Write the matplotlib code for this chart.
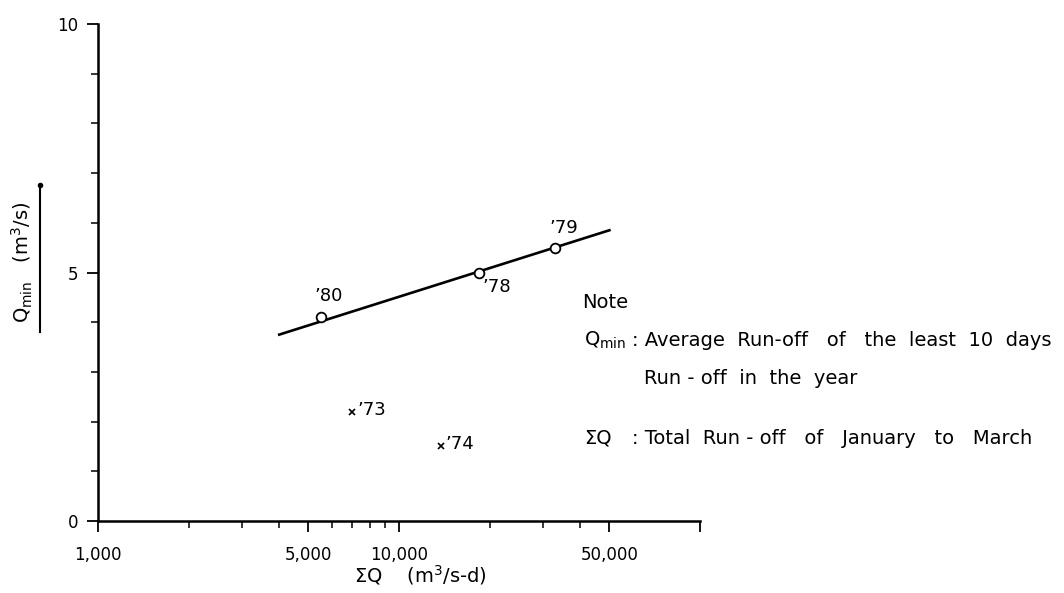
import matplotlib.pyplot as plt
from matplotlib.lines import Line2D

plt.rcParams['font.family'] = ['DejaVu Sans']
plt.rcParams['mathtext.default'] = 'regular'

# years lying on the fitted line
fit_years = ["’80", "’78", "’79"]
fit_sum_q = [5500, 18500, 33000]
fit_q_min = [4.1, 5.0, 5.5]

# years off the line
other_years = ["’73", "’74"]
other_sum_q = [7000, 13800]
other_q_min = [2.2, 1.5]

# fitted line end points
line_sum_q = [4000, 50000]
line_q_min = [3.75, 5.85]

x_ticks = [1000, 5000, 10000, 50000, 100000]
x_tick_labels = ["1,000", "5,000", "10,000", "50,000", ""]
x_minor = [2000, 3000, 4000, 6000, 7000, 8000, 9000, 20000, 30000, 40000]
y_ticks = [0, 5, 10]
y_tick_labels = ["0", "5", "10"]
y_minor = [1, 2, 3, 4, 6, 7, 8, 9]

W, H = 1064, 593
fig = plt.figure(figsize=(W / 100, H / 100), dpi=100)
ax = fig.add_axes([98 / W, 1 - 521 / H, (700 - 98) / W, (521 - 24) / H])

ax.plot(line_sum_q, line_q_min, color='k', lw=1.9, zorder=2)
ax.plot(fit_sum_q, fit_q_min, 'o', mfc='white', mec='k', ms=7, mew=1.3, zorder=3)
ax.plot(other_sum_q, other_q_min, 'x', color='k', ms=5, mew=1.2)

# label offsets in points
fit_offsets = [(-4.5, 9), (2, -4), (-4, 8)]
fit_align = [('left', 'bottom'), ('left', 'top'), ('left', 'bottom')]
for yr, x, y, off, (ha, va) in zip(fit_years, fit_sum_q, fit_q_min, fit_offsets, fit_align):
    ax.annotate(yr, (x, y), xytext=off, textcoords='offset points',
                ha=ha, va=va, fontsize=13)
for yr, x, y in zip(other_years, other_sum_q, other_q_min):
    ax.annotate(yr, (x, y), xytext=(3.5, 1.5), textcoords='offset points',
                ha='left', va='center', fontsize=13)

ax.set_xscale('log')
ax.set_xlim(1000, 100000)
ax.set_ylim(0, 10)
ax.set_xticks(x_ticks)
ax.set_xticklabels(x_tick_labels)
ax.set_xticks(x_minor, minor=True)
ax.set_xticklabels([], minor=True)
ax.set_yticks(y_ticks)
ax.set_yticklabels(y_tick_labels)
ax.set_yticks(y_minor, minor=True)

for s in ['top', 'right']:
    ax.spines[s].set_visible(False)
for s in ['left', 'bottom']:
    ax.spines[s].set_linewidth(1.8)
ax.tick_params(which='major', direction='out', length=8, width=1.3,
               labelsize=12, pad=6)
ax.tick_params(which='minor', direction='out', length=5, width=1.1)
ax.tick_params(axis='x', which='major', pad=10)

# axis titles
fig.text(420 / W, 1 - 575 / H, "ΣQ    (m$^3$/s-d)", ha='center', va='center',
         fontsize=14)
fig.text(22 / W, 1 - 262 / H, "Q$_{min}$   (m$^3$/s)", rotation=90,
         ha='center', va='center', fontsize=14)
fig.add_artist(Line2D([40 / W, 40 / W], [1 - 185 / H, 1 - 332 / H],
                      transform=fig.transFigure, color='k', lw=1.5))
fig.add_artist(Line2D([40 / W], [1 - 185 / H], transform=fig.transFigure,
                      marker='o', ms=3, color='k'))

# note block
fs = 14
fig.text(582 / W, 1 - 303 / H, "Note", fontsize=fs, va='center')
fig.text(584 / W, 1 - 340 / H, "Q$_{min}$", fontsize=fs, va='center')
fig.text(632 / W, 1 - 340 / H, ": Average  Run-off   of   the  least  10  days",
         fontsize=fs, va='center')
fig.text(644 / W, 1 - 378 / H, "Run - off  in  the  year", fontsize=fs, va='center')
fig.text(584 / W, 1 - 438 / H, "ΣQ", fontsize=fs, va='center')
fig.text(632 / W, 1 - 438 / H, ": Total  Run - off   of   January   to   March",
         fontsize=fs, va='center')

fig.savefig('out.png', dpi=100)
